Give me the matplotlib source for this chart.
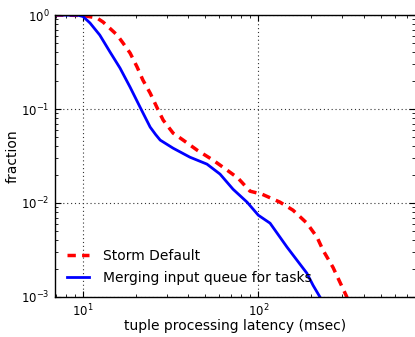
import matplotlib
matplotlib.use("Agg")
import matplotlib.pyplot as plt

# ── Data ─────────────────────────────────────────────────────────────────────
default_x = [6.95, 10.04, 12.06, 13.05, 15.7, 16.96, 18.6, 20.4, 22.0, 24.2,
             26.9, 28.7, 32.7, 37.3, 44.8, 55.2, 66.3, 76.6, 89.7, 105,
             132.9, 157.6, 189, 216, 233.6, 266, 320]
default_y = [1.0, 0.988, 0.929, 0.842, 0.612, 0.503, 0.394, 0.2795, 0.2032,
             0.1477, 0.0973, 0.0762, 0.0554, 0.0467, 0.0365, 0.0286, 0.0224,
             0.0184, 0.01335, 0.0124, 0.0102, 0.00838, 0.0061, 0.00432,
             0.00314, 0.00207, 0.00099]

merged_x = [6.95, 9.40, 10.04, 11.0, 12.5, 14.3, 16.3, 18.6, 21.2, 24.2, 26.0,
            27.6, 32.7, 40.8, 51.0, 60.5, 71.8, 86.3, 100, 116.6, 132.9,
            145.7, 166, 189, 205, 225]
merged_y = [1.0, 0.993, 0.964, 0.822, 0.612, 0.404, 0.2726, 0.171, 0.1047,
            0.0642, 0.0535, 0.0467, 0.0383, 0.0307, 0.0259, 0.0203, 0.0140,
            0.0102, 0.00741, 0.0061, 0.00432, 0.00339, 0.00246, 0.00179,
            0.00133, 0.00099]

plt.rcParams["font.family"] = "DejaVu Sans"
plt.rcParams["font.size"] = 10
plt.rcParams["xtick.direction"] = "in"
plt.rcParams["ytick.direction"] = "in"

fig = plt.figure(figsize=(4.15, 3.37), dpi=100)
ax = fig.add_axes([55 / 415, 40 / 337, 360 / 415, 282 / 337])

ax.plot(default_x, default_y, color="red", linewidth=2.5,
        dashes=(2.4, 1.8), label="Storm Default")
ax.plot(merged_x, merged_y, color="blue", linewidth=2,
        label="Merging input queue for tasks")

ax.set_xscale("log")
ax.set_yscale("log")
ax.set_xlim(6.95, 780)
ax.set_ylim(1e-3, 1)

ax.grid(True, which="major", color="#333333", linestyle=(0, (1, 2.5)),
        linewidth=0.8)
ax.tick_params(which="both", top=True, right=True, labelsize=8.5)
ax.tick_params(which="major", length=4, pad=4)
ax.tick_params(which="minor", length=2)
ax.spines["right"].set_visible(False)
for s in ["left", "top", "bottom"]:
    ax.spines[s].set_linewidth(1.0)

ax.set_xlabel("tuple processing latency (msec)", labelpad=0)
ax.set_ylabel("fraction", labelpad=1)

ax.legend(loc="lower left", frameon=False, handlelength=1.6,
          handletextpad=1.0, borderaxespad=0.45, labelspacing=0.6)

plt.savefig("out.png", dpi=100)
